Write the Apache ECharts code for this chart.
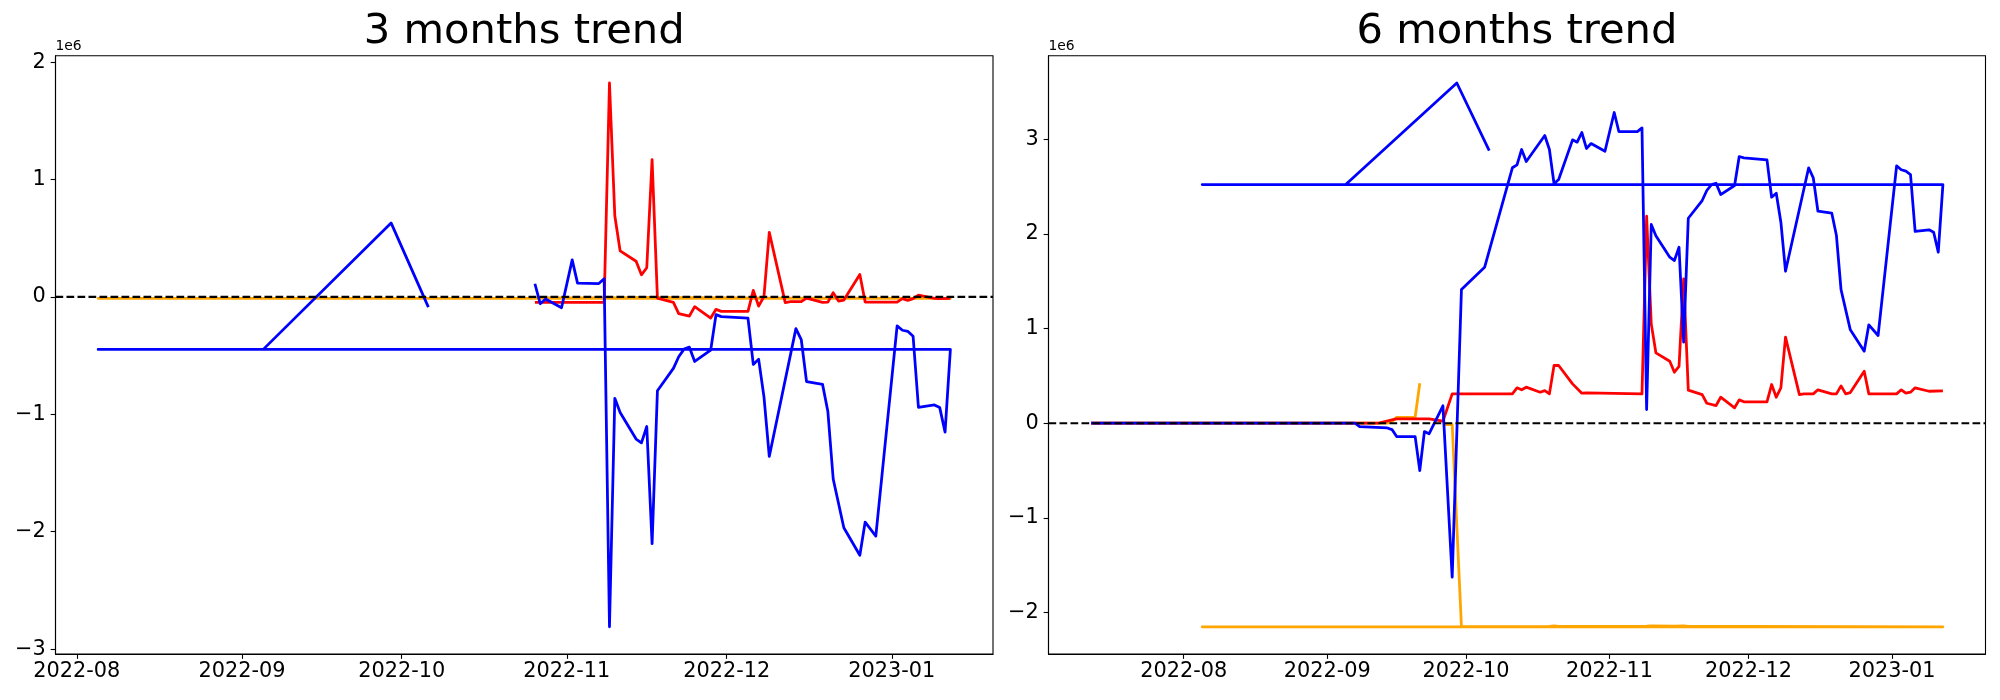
<!DOCTYPE html>
<html>
<head>
<meta charset="utf-8">
<script src="https://cdn.jsdelivr.net/npm/echarts@6/dist/echarts.min.js"></script>
<style>
html,body{margin:0;padding:0;background:#ffffff;}
#chart{width:2000px;height:700px;}
</style>
</head>
<body>
<div id="chart"></div>
<script>
// ---------- tick labels ----------
const monthTicks = ['2022-08','2022-09','2022-10','2022-11','2022-12','2023-01'];
const yTicksLeft = [-3, -2, -1, 0, 1, 2];
const yTicksRight = [-2, -1, 0, 1, 2, 3];
const yScaleFactor = 1e6;
const titles = ['3 months trend', '6 months trend'];

// ---------- 3 months trend ----------
const leftBlueDates = ['2022-10-26','2022-10-27','2022-10-28','2022-10-31','2022-11-02','2022-11-03','2022-11-07','2022-11-08','2022-11-09','2022-11-10','2022-11-11','2022-11-14','2022-11-15','2022-11-16','2022-11-17','2022-11-18','2022-11-21','2022-11-22','2022-11-23','2022-11-24','2022-11-25','2022-11-28','2022-11-29','2022-11-30','2022-12-05','2022-12-06','2022-12-07','2022-12-08','2022-12-09','2022-12-14','2022-12-15','2022-12-16','2022-12-19','2022-12-20','2022-12-21','2022-12-23','2022-12-26','2022-12-27','2022-12-29','2023-01-02','2023-01-03','2023-01-04','2023-01-05','2023-01-06','2023-01-09','2023-01-10','2023-01-11','2023-01-12','2022-08-05','2022-09-05','2022-09-29','2022-10-06'];
const leftBlueValues = [112000,-58000,-18000,-92000,315000,117000,114000,154000,-2810000,-864000,-985000,-1211000,-1243000,-1104000,-2102000,-799000,-609000,-510000,-445000,-428000,-550000,-454000,-151000,-168000,-180000,-575000,-530000,-850000,-1359000,-270000,-363000,-722000,-745000,-977000,-1551000,-1966000,-2201000,-1918000,-2037000,-247000,-284000,-293000,-335000,-940000,-920000,-943000,-1152000,-447000,-447000,-447000,630000,-87000];

const leftRedDates = ['2022-10-26','2022-10-27','2022-10-28','2022-10-31','2022-11-02','2022-11-03','2022-11-07','2022-11-08','2022-11-09','2022-11-10','2022-11-11','2022-11-14','2022-11-15','2022-11-16','2022-11-17','2022-11-18','2022-11-21','2022-11-22','2022-11-24','2022-11-25','2022-11-28','2022-11-29','2022-11-30','2022-12-05','2022-12-06','2022-12-07','2022-12-08','2022-12-09','2022-12-12','2022-12-13','2022-12-15','2022-12-16','2022-12-19','2022-12-20','2022-12-21','2022-12-22','2022-12-23','2022-12-26','2022-12-27','2022-12-29','2023-01-02','2023-01-03','2023-01-04','2023-01-05','2023-01-06','2023-01-09','2023-01-10','2023-01-12'];
const leftRedValues = [-47000,-47000,-47000,-47000,-47000,-47000,-47000,-47000,1822000,691000,392000,304000,188000,248000,1169000,-10000,-47000,-143000,-163000,-83000,-180000,-106000,-123000,-123000,55000,-78000,3000,550000,-49000,-41000,-41000,-10000,-47000,-44000,36000,-36000,-27000,191000,-44000,-44000,-44000,-15000,-30000,-15000,15000,-12000,-15000,-13000];

const leftOrangeDates = ['2022-10-26','2022-11-09','2022-11-17','2022-12-09','2023-01-12','2022-08-05','2022-09-05','2022-09-29','2022-10-06'];
const leftOrangeValues = [-8000,-8000,-5000,-10000,-12000,-12000,-12000,-12000,-12000];

// ---------- 6 months trend ----------
const rightBlueDates = ['2022-07-12','2022-07-25','2022-08-08','2022-08-22','2022-09-07','2022-09-08','2022-09-14','2022-09-15','2022-09-16','2022-09-20','2022-09-21','2022-09-22','2022-09-23','2022-09-26','2022-09-28','2022-09-30','2022-10-05','2022-10-11','2022-10-12','2022-10-13','2022-10-14','2022-10-18','2022-10-19','2022-10-20','2022-10-21','2022-10-24','2022-10-25','2022-10-26','2022-10-27','2022-10-28','2022-10-31','2022-11-02','2022-11-03','2022-11-07','2022-11-08','2022-11-09','2022-11-10','2022-11-11','2022-11-14','2022-11-15','2022-11-16','2022-11-17','2022-11-18','2022-11-21','2022-11-22','2022-11-23','2022-11-24','2022-11-25','2022-11-28','2022-11-29','2022-11-30','2022-12-05','2022-12-06','2022-12-07','2022-12-08','2022-12-09','2022-12-14','2022-12-15','2022-12-16','2022-12-19','2022-12-20','2022-12-21','2022-12-23','2022-12-26','2022-12-27','2022-12-29','2023-01-02','2023-01-03','2023-01-04','2023-01-05','2023-01-06','2023-01-09','2023-01-10','2023-01-11','2023-01-12','2022-08-05','2022-09-05','2022-09-29','2022-10-06'];
const rightBlueValues = [0,0,0,0,0,-35000,-50000,-67000,-141000,-141000,-500000,-88000,-112000,184000,-1627000,1413000,1648000,2699000,2730000,2892000,2765000,3040000,2892000,2530000,2575000,2994000,2970000,3072000,2903000,2955000,2874000,3283000,3082000,3082000,3121000,145000,2100000,1980000,1754000,1719000,1860000,856000,2166000,2353000,2459000,2522000,2536000,2416000,2512000,2818000,2804000,2783000,2388000,2430000,2124000,1606000,2699000,2593000,2240000,2219000,1983000,1410000,987000,761000,1040000,927000,2720000,2678000,2663000,2628000,2026000,2044000,2018000,1807000,2522000,2522000,2522000,3595000,2881000];

const rightRedDates = ['2022-07-12','2022-07-25','2022-08-08','2022-08-22','2022-09-07','2022-09-12','2022-09-13','2022-09-15','2022-09-16','2022-09-20','2022-09-23','2022-09-26','2022-09-28','2022-10-05','2022-10-11','2022-10-12','2022-10-13','2022-10-14','2022-10-17','2022-10-18','2022-10-19','2022-10-20','2022-10-21','2022-10-24','2022-10-26','2022-10-27','2022-11-08','2022-11-09','2022-11-10','2022-11-11','2022-11-14','2022-11-15','2022-11-16','2022-11-17','2022-11-18','2022-11-21','2022-11-22','2022-11-24','2022-11-25','2022-11-28','2022-11-29','2022-11-30','2022-12-05','2022-12-06','2022-12-07','2022-12-08','2022-12-09','2022-12-12','2022-12-13','2022-12-15','2022-12-16','2022-12-19','2022-12-20','2022-12-21','2022-12-22','2022-12-23','2022-12-26','2022-12-27','2023-01-02','2023-01-03','2023-01-04','2023-01-05','2023-01-06','2023-01-09','2023-01-12'];
const rightRedValues = [0,0,0,0,0,0,12000,36000,46000,46000,46000,21000,310000,310000,310000,374000,353000,381000,328000,345000,310000,610000,610000,416000,317000,321000,310000,2187000,1050000,744000,655000,539000,600000,1526000,350000,303000,211000,187000,275000,163000,247000,226000,226000,409000,275000,374000,909000,303000,310000,310000,353000,310000,310000,395000,310000,324000,549000,310000,310000,353000,317000,328000,374000,338000,342000];

const rightOrangeDates = ['2022-07-12','2022-07-25','2022-08-08','2022-08-22','2022-09-07','2022-09-14','2022-09-15','2022-09-16','2022-09-20','2022-09-21','2022-09-22','2022-09-26','2022-09-28','2022-09-30','2022-10-19','2022-10-20','2022-10-21','2022-11-09','2022-11-10','2022-11-15','2022-11-17','2022-11-18','2022-12-01','2023-01-12','2022-08-05','2022-09-05','2022-09-29','2022-10-06'];
const rightOrangeValues = [0,0,0,0,0,0,20000,63000,63000,423000,null,-14000,-14000,-2148000,-2146000,-2142000,-2146000,-2145000,-2142000,-2143000,-2140000,-2146000,-2146000,-2151000,-2151000,-2151000,-2151000,-2151000];

// ---------- helpers ----------
function ts(s) {
  const p = s.split('-').map(Number);
  return new Date(p[0], p[1] - 1, p[2] || 1).getTime();
}
function pairs(dates, vals) {
  return dates.map((d, i) => [ts(d), vals[i] == null ? '-' : vals[i]]);
}
function padded(arr) {
  const nums = arr.filter(v => v != null);
  const lo = Math.min(...nums), hi = Math.max(...nums);
  const m = (hi - lo) * 0.05;
  return [lo - m, hi + m];
}
function fmtMonth(v) {
  const d = new Date(v);
  return d.getFullYear() + '-' + String(d.getMonth() + 1).padStart(2, '0');
}
function fmtY(v) {
  const n = Math.round(v / yScaleFactor);
  return n < 0 ? '\u2212' + (-n) : String(n);
}

const FONT = 'DejaVu Sans';
const BLUE = '#0000ff', RED = '#ff0000', ORANGE = '#ffa500';

const panels = [
  {
    blue: pairs(leftBlueDates, leftBlueValues),
    red: pairs(leftRedDates, leftRedValues),
    orange: pairs(leftOrangeDates, leftOrangeValues),
    xs: [].concat(leftBlueDates, leftRedDates, leftOrangeDates).map(ts),
    ys: [].concat(leftBlueValues, leftRedValues, leftOrangeValues, [0]),
    yTicks: yTicksLeft,
    grid: { left: 55.5, top: 55.8, width: 937.5, height: 598.2 }
  },
  {
    blue: pairs(rightBlueDates, rightBlueValues),
    red: pairs(rightRedDates, rightRedValues),
    orange: pairs(rightOrangeDates, rightOrangeValues),
    xs: [].concat(rightBlueDates, rightRedDates, rightOrangeDates).map(ts),
    ys: [].concat(rightBlueValues, rightRedValues, rightOrangeValues, [0]),
    yTicks: yTicksRight,
    grid: { left: 1048.5, top: 55.8, width: 937, height: 598.2 }
  }
];

const grids = [], xAxes = [], yAxes = [], series = [], graphics = [];
const monthValues = monthTicks.map(m => ts(m + '-01'));

panels.forEach((p, i) => {
  const xl = padded(p.xs);
  const yl = padded(p.ys);
  grids.push(Object.assign({
    show: true, borderColor: '#000', borderWidth: 1.1,
    backgroundColor: 'transparent', containLabel: false, outerBoundsMode: 'none'
  }, p.grid));
  xAxes.push({
    type: 'value', gridIndex: i, min: xl[0], max: xl[1], scale: true,
    splitLine: { show: false }, minorTick: { show: false },
    axisLine: { show: true, onZero: false, lineStyle: { color: '#000', width: 1.1 } },
    axisTick: { show: true, length: 4.86, lineStyle: { color: '#000', width: 1.1 }, customValues: monthValues },
    axisLabel: { show: true, customValues: monthValues, formatter: fmtMonth, color: '#000',
      fontSize: 20.83, fontFamily: FONT, margin: 7.3, hideOverlap: false }
  });
  const yVals = p.yTicks.map(t => t * yScaleFactor);
  yAxes.push({
    type: 'value', gridIndex: i, min: yl[0], max: yl[1], scale: true,
    splitLine: { show: false }, minorTick: { show: false },
    axisLine: { show: true, onZero: false, lineStyle: { color: '#000', width: 1.1 } },
    axisTick: { show: true, length: 4.86, lineStyle: { color: '#000', width: 1.1 }, customValues: yVals },
    axisLabel: { show: true, customValues: yVals, formatter: fmtY, color: '#000',
      fontSize: 20.83, fontFamily: FONT, margin: 9.7, hideOverlap: false }
  });
  const common = {
    type: 'line', xAxisIndex: i, yAxisIndex: i, showSymbol: false, symbol: 'none',
    connectNulls: false, animation: false, silent: true, clip: true,
    emphasis: { disabled: true }
  };
  [['orange', ORANGE], ['red', RED], ['blue', BLUE]].forEach(([k, c]) => {
    series.push(Object.assign({}, common, {
      name: k + i, data: p[k],
      lineStyle: { color: c, width: 2.78, join: 'round', cap: 'butt' },
      itemStyle: { color: c }
    }));
  });
  series.push(Object.assign({}, common, {
    name: 'zero' + i, data: [[xl[0], 0], [xl[1], 0]], z: 5,
    lineStyle: { color: '#000', width: 2.08, type: [7.7, 3.3] },
    itemStyle: { color: '#000' }
  }));
  const cx = p.grid.left + p.grid.width / 2;
  graphics.push({
    type: 'text', x: cx, y: 32.3, silent: true,
    style: { text: titles[i], fill: '#000', fontSize: 41.67, fontFamily: FONT,
      align: 'center', verticalAlign: 'middle', textAlign: 'center', textVerticalAlign: 'middle' }
  });
  graphics.push({
    type: 'text', x: p.grid.left, y: 45.9, silent: true,
    style: { text: '1e6', fill: '#000', fontSize: 13.89, fontFamily: FONT,
      align: 'left', verticalAlign: 'middle', textAlign: 'left', textVerticalAlign: 'middle' }
  });
});

const chart = echarts.init(document.getElementById('chart'), null, { renderer: 'canvas', width: 2000, height: 700 });
chart.setOption({
  backgroundColor: '#ffffff',
  animation: false,
  grid: grids,
  xAxis: xAxes,
  yAxis: yAxes,
  series: series,
  graphic: graphics
});
</script>
</body>
</html>
